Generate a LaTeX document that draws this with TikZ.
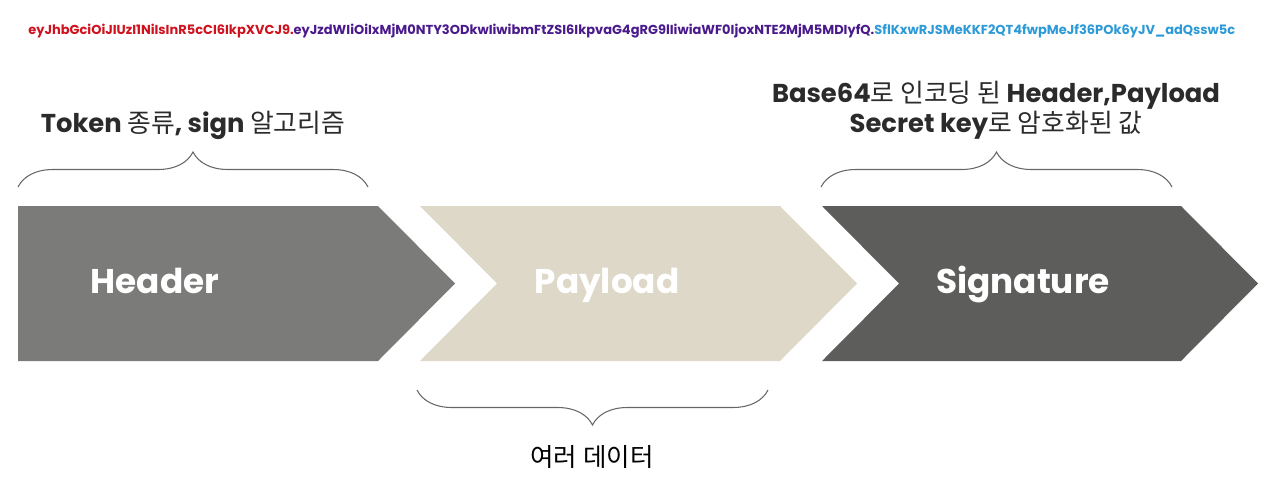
\documentclass[tikz,border=0pt]{standalone}
\usepackage{fontspec}
\setmainfont{Poppins}
\newfontfamily\krfont{Noto Sans CJK KR}
\usetikzlibrary{decorations.pathreplacing}

\definecolor{tokred}{HTML}{D0121E}
\definecolor{tokpurple}{HTML}{4A1A8C}
\definecolor{tokblue}{HTML}{2D9AD8}
\definecolor{headgray}{HTML}{7B7B79}
\definecolor{paysand}{HTML}{DDD8C8}
\definecolor{signgray}{HTML}{5D5D5B}
\definecolor{captext}{HTML}{2B2B2B}

\begin{document}
\begin{tikzpicture}[x=0.02cm, y=-0.02cm,
    caption/.style={font=\fontsize{14.7}{14.7}\selectfont\bfseries, text=captext, inner sep=0pt},
    blocklabel/.style={font=\fontsize{19.5}{22}\selectfont\bfseries, text=white, inner sep=0pt},
    curly/.style={draw=black!60, line width=0.6pt, decorate, decoration={brace, amplitude=0.7cm}}]

    \useasboundingbox (0,0) rectangle (1280,487);

    % --- TOKEN STRING ---
    \node[anchor=base west, inner sep=0pt, font=\fontsize{7.4}{9}\selectfont\bfseries] (token) at (28,34)
        {\textcolor{tokred}{eyJhbGciOiJIUzI1NiIsInR5cCI6IkpXVCJ9.}\textcolor{tokpurple}{eyJzdWIiOiIxMjM0NTY3ODkwIiwibmFtZSI6IkpvaG4gRG9lIiwiaWF0IjoxNTE2MjM5MDIyfQ.}\textcolor{tokblue}{SflKxwRJSMeKKF2QT4fwpMeJf36POk6yJV\_adQssw5c}};

    % --- HEADER ---
    \fill[headgray] (18,206) -- (378,206) -- (455,283.5) -- (378,361) -- (18,361) -- cycle;
    \node[blocklabel, anchor=base] (header) at (155,293) {Header};
    \node[caption, anchor=base] (headtext) at (193,132) {Token {\krfont\mdseries 종류}, sign {\krfont\mdseries 알고리즘}};
    \draw[curly] (18,187) -- (368,187);

    % --- PAYLOAD ---
    \fill[paysand] (420,206) -- (780,206) -- (857,283.5) -- (780,361) -- (420,361) -- (497,283.5) -- cycle;
    \node[blocklabel, anchor=base] (payload) at (607,293) {Payload};
    \draw[curly] (768,390) -- (417,390);
    \node[anchor=base, inner sep=0pt, font=\fontsize{14.5}{17}\selectfont\krfont] (paytext) at (592,466) {여러 데이터};

    % --- SIGNATURE ---
    \fill[signgray] (822,206) -- (1181,206) -- (1258,283.5) -- (1181,361) -- (822,361) -- (899,283.5) -- cycle;
    \node[blocklabel, anchor=base] (signature) at (1023,293) {Signature};
    \node[caption, anchor=base, align=center] (signtext) at (996,132)
        {Base64{\krfont\mdseries 로 인코딩 된} Header,Payload\\[-0.3pt]Secret key{\krfont\mdseries 로 암호화된 값}};
    \draw[curly] (821,187) -- (1172,187);

\end{tikzpicture}
\end{document}
